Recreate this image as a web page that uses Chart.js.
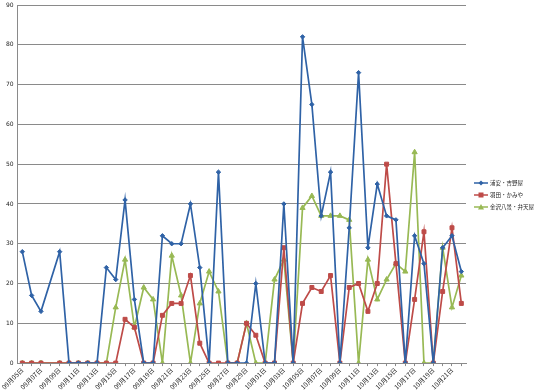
<!DOCTYPE html>
<html>
<head>
<meta charset="utf-8">
<script src="https://cdn.jsdelivr.net/npm/chart.js@4.4.1/dist/chart.umd.min.js"></script>
<style>
  body { margin: 0; background: #fff; }
  #wrap { position: relative; width: 540px; height: 392px; }
  #legend { position: absolute; left: 474px; top: 177px; font-family: "Noto Sans CJK JP", sans-serif; font-size: 5.5px; color: #222; }
  .item { display: flex; align-items: center; height: 12px; white-space: nowrap; }
  .item svg { margin-right: 2px; }
</style>
</head>
<body>
<div id="wrap">
  <canvas id="chart" width="540" height="392"></canvas>
  <div id="legend"></div>
</div>
<script>
const dates = [
  '09月05日','09月06日','09月07日','09月08日','09月09日','09月10日','09月11日','09月12日',
  '09月13日','09月14日','09月15日','09月16日','09月17日','09月18日','09月19日','09月20日',
  '09月21日','09月22日','09月23日','09月24日','09月25日','09月26日','09月27日','09月28日',
  '09月29日','09月30日','10月01日','10月02日','10月03日','10月04日','10月05日','10月06日',
  '10月07日','10月08日','10月09日','10月10日','10月11日','10月12日','10月13日','10月14日',
  '10月15日','10月16日','10月17日','10月18日','10月19日','10月20日','10月21日','10月22日'
];

const seriesNames = ['浦安・吉野屋', '羽田・かみや', '金沢八景・弁天屋'];

const urayasu = [28, 17, 13, null, 28, 0, 0, 0, 0, 24, 21, 41, 16, 0, 0, 32,
  30, 30, 40, 24, 0, 48, 0, 0, 0, 20, 0, 0, 40, 0, 82, 65,
  37, 48, 0, 34, 73, 29, 45, 37, 36, 0, 32, 25, 0, 29, 32, 23];

const haneda = [0, 0, 0, null, 0, 0, 0, 0, 0, 0, 0, 11, 9, 0, 0, 12,
  15, 15, 22, 5, 0, 0, 0, 0, 10, 7, 0, 0, 29, 0, 15, 19,
  18, 22, 0, 19, 20, 13, 20, 50, 25, 0, 16, 33, 0, 18, 34, 15];

const kanazawa = [0, 0, 0, null, 0, 0, 0, 0, 0, 0, 14, 26, 9, 19, 16, 0,
  27, 17, 0, 15, 23, 18, 0, 0, 10, 0, 0, 21, 26, 0, 39, 42,
  37, 37, 37, 36, 0, 26, 16, 21, 25, 23, 53, 0, 0, 29, 14, 22];

const colors = ['#2f62a6', '#be4b48', '#98b954'];
const markers = ['rectRot', 'rect', 'triangle'];
const markerSizes = [2.2, 2.8, 3];

const ctx = document.getElementById('chart').getContext('2d');
const chart = new Chart(ctx, {
  type: 'line',
  data: {
    labels: dates,
    datasets: [urayasu, haneda, kanazawa].map((vals, i) => ({
      label: seriesNames[i],
      data: vals,
      borderColor: colors[i],
      backgroundColor: colors[i],
      borderWidth: 1.7,
      pointStyle: markers[i],
      pointRadius: markerSizes[i],
      pointBorderWidth: 1,
      spanGaps: true,
      tension: 0
    }))
  },
  options: {
    responsive: false,
    animation: false,
    layout: { padding: { left: 2, right: 74, top: 3, bottom: 1 } },
    plugins: { legend: { display: false }, tooltip: { enabled: false } },
    scales: {
      x: {
        offset: true,
        grid: { drawOnChartArea: false, drawTicks: true, tickLength: 3, color: '#8a8a8a' },
        border: { color: '#8a8a8a' },
        ticks: {
          autoSkip: false,
          maxRotation: 45,
          minRotation: 45,
          padding: 0,
          color: '#222',
          font: { family: '"Noto Sans CJK JP", sans-serif', size: 6.5 },
          callback: (v, i) => (i % 2 === 0 ? dates[i] : '')
        }
      },
      y: {
        min: 0,
        max: 90,
        grid: { color: '#8a8a8a', drawTicks: false },
        border: { color: '#8a8a8a' },
        ticks: {
          stepSize: 10,
          padding: 4,
          color: '#222',
          font: { family: '"DejaVu Sans", sans-serif', size: 6 }
        },
        // no extra room above the 90 line
        afterFit: (s) => { s.paddingTop = 0; }
      }
    }
  }
});

// legend, Excel style: short line with marker in the middle
const legend = document.getElementById('legend');
seriesNames.forEach((name, i) => {
  let mark;
  if (i === 0) mark = `<polygon points="7,1.5 9.5,4 7,6.5 4.5,4" fill="${colors[i]}"/>`;
  else if (i === 1) mark = `<rect x="4.5" y="1.5" width="5" height="5" fill="${colors[i]}"/>`;
  else mark = `<polygon points="7,1 10,6.5 4,6.5" fill="${colors[i]}"/>`;
  const row = document.createElement('div');
  row.className = 'item';
  row.innerHTML = `<svg width="14" height="8"><line x1="0" y1="4" x2="14" y2="4" stroke="${colors[i]}" stroke-width="1.5"/>${mark}</svg><span>${name}</span>`;
  legend.appendChild(row);
});
</script>
</body>
</html>
